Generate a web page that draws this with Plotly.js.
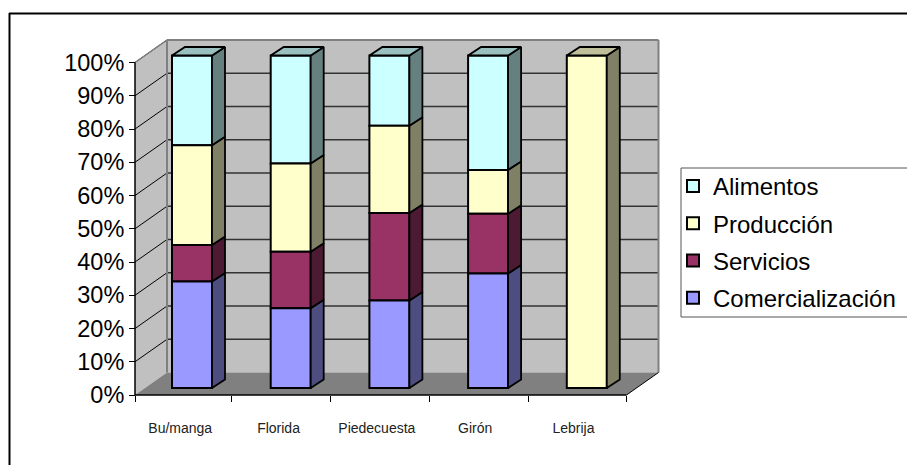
<!DOCTYPE html>
<html>
<head>
<meta charset="utf-8">
<script src="https://cdn.plot.ly/plotly-3.0.1.min.js"></script>
<style>html,body{margin:0;padding:0;background:#fff;overflow:hidden}</style>
</head>
<body>
<div id="chart" style="width:907px;height:465px"></div>
<script>
// ---- data (percent of each municipality) ----
const categories = ['Bu/manga', 'Florida', 'Piedecuesta', 'Girón', 'Lebrija'];
const comercializacion = [32, 24, 26.3, 34.4, 0];
const servicios = [11, 17, 26.3, 18, 0];
const produccion = [30, 26.5, 26.3, 13.2, 100];
const alimentos = [27, 32.5, 21.1, 34.4, 0];
const seriesNames = ['Comercialización', 'Servicios', 'Producción', 'Alimentos'];
const frontColors = ['#9999FF', '#993366', '#FFFFCC', '#CCFFFF'];
const sideColors = ['#4D4D80', '#4D1A33', '#808066', '#668080'];
const topColors = ['#7373BF', '#732640', '#BFBF99', '#99BFBF'];
const yTicks = [0, 10, 20, 30, 40, 50, 60, 70, 80, 90, 100];

// ---- pseudo-3D geometry, in pixels of the 907x465 page ----
const W = 907, H = 465;
const UX = 98.3, UY = 3.325;          // px per category, px per percent
const X0 = 135, Y0 = 395;             // front-left-bottom corner of the box
const DEPTH_PX = [32, 22.5];          // full depth of the box
const BAR_SHIFT_PX = [37, 7];         // front-left-bottom of first bar from the corner
const BAR_STEP_PX = 98.7;
const BAR_W_PX = 40, BAR_D_PX = [13, 8.5];
const VIEW = {l: 120, r: 672, t: 28, b: 412};

const dataX = px => (px - X0) / UX - 0.5;
const dataY = py => (Y0 - py) / UY;
const dx = DEPTH_PX[0] / UX, dy = DEPTH_PX[1] / UY;
const xEnd = 4.5, yEnd = 100;
const barW = BAR_W_PX / UX, barDX = BAR_D_PX[0] / UX, barDY = BAR_D_PX[1] / UY;
const barX = i => dataX(X0 + BAR_SHIFT_PX[0] + BAR_W_PX / 2 + i * BAR_STEP_PX);
const barY0 = BAR_SHIFT_PX[1] / UY;

const seriesValues = [comercializacion, servicios, produccion, alimentos];

// stacked bases
const bases = seriesValues.map((s, k) => s.map((_, i) => {
  let b = barY0;
  for (let j = 0; j < k; j++) b += seriesValues[j][i];
  return b;
}));

// front faces, top series first so the legend reads Alimentos -> Comercialización
const traces = seriesValues.map((vals, k) => ({
  type: 'bar',
  name: seriesNames[k],
  legendgroup: seriesNames[k],
  x: categories.map((_, i) => barX(i)),
  y: vals,
  base: bases[k],
  width: barW,
  marker: {color: frontColors[k], line: {color: '#000', width: 2}},
  hoverinfo: 'skip'
})).reverse();

// side faces
seriesValues.forEach((vals, k) => {
  const xs = [], ys = [];
  vals.forEach((v, i) => {
    if (v <= 0) return;
    const r = barX(i) + barW / 2, b = bases[k][i];
    xs.push(r, r + barDX, r + barDX, r, r, null);
    ys.push(b, b + barDY, b + v + barDY, b + v, b, null);
  });
  traces.push({type: 'scatter', mode: 'lines', x: xs, y: ys, fill: 'toself',
    fillcolor: sideColors[k], line: {color: '#000', width: 1.8},
    showlegend: false, hoverinfo: 'skip'});
});

// top faces (the uppermost non-empty segment of each bar)
seriesValues.forEach((vals, k) => {
  const xs = [], ys = [];
  vals.forEach((v, i) => {
    if (v <= 0) return;
    if (seriesValues.slice(k + 1).some(s => s[i] > 0)) return;
    const l = barX(i) - barW / 2, r = l + barW, t = bases[k][i] + v;
    xs.push(l, r, r + barDX, l + barDX, l, null);
    ys.push(t, t, t + barDY, t + barDY, t, null);
  });
  if (xs.length) traces.push({type: 'scatter', mode: 'lines', x: xs, y: ys, fill: 'toself',
    fillcolor: topColors[k], line: {color: '#000', width: 1.8},
    showlegend: false, hoverinfo: 'skip'});
});

// box: walls, floor, gridlines, axes
const poly = (pts, fill, lineColor, lineWidth) => ({
  type: 'path', xref: 'x', yref: 'y', layer: 'below',
  path: 'M' + pts.map(p => p[0] + ',' + p[1]).join('L') + 'Z',
  fillcolor: fill, line: {color: lineColor || fill, width: lineWidth === undefined ? 0 : lineWidth}
});
const seg = (a, b, color, width) => ({
  type: 'line', xref: 'x', yref: 'y', layer: 'below',
  x0: a[0], y0: a[1], x1: b[0], y1: b[1], line: {color: color, width: width}
});
const x0 = -0.5;
const shapes = [
  // outer frame of the picture
  {type: 'line', xref: 'paper', yref: 'paper', layer: 'below', x0: 9.5 / W, x1: 9.5 / W, y0: 0, y1: 1 - 13 / H, line: {color: '#000', width: 2}},
  {type: 'line', xref: 'paper', yref: 'paper', layer: 'below', x0: 9 / W, x1: 1, y0: 1 - 13.5 / H, y1: 1 - 13.5 / H, line: {color: '#000', width: 2}},
  // legend box
  {type: 'rect', xref: 'paper', yref: 'paper', layer: 'below', x0: 681 / W, x1: 908 / W, y0: 1 - 317 / H, y1: 1 - 168 / H, fillcolor: '#fff', line: {color: '#555', width: 1}},
  // walls and floor
  poly([[x0 + dx, dy], [xEnd + dx, dy], [xEnd + dx, yEnd + dy], [x0 + dx, yEnd + dy]], '#C0C0C0'),
  poly([[x0, 0], [x0 + dx, dy], [x0 + dx, yEnd + dy], [x0, yEnd]], '#C0C0C0'),
  poly([[x0, 0], [xEnd, 0], [xEnd + dx, dy], [x0 + dx, dy]], '#808080')
];
yTicks.forEach(t => {
  if (t > 0 && t < 100) shapes.push(seg([x0 + dx, t + dy], [xEnd + dx, t + dy], '#333', 1.5));
  if (t > 0) shapes.push(seg([x0, t], [x0 + dx, t + dy], '#000', 1));
});
shapes.push(
  seg([x0 + dx, dy], [x0 + dx, yEnd + dy], '#808080', 2),
  seg([x0 + dx, yEnd + dy], [xEnd + dx, yEnd + dy], '#808080', 2),
  seg([xEnd + dx, yEnd + dy], [xEnd + dx, dy], '#808080', 2),
  seg([x0, yEnd], [x0 + dx, yEnd + dy], '#808080', 1.5),
  seg([xEnd, 0], [xEnd + dx, dy], '#000', 1),
  seg([x0, 0], [xEnd, 0], '#000', 1.5),
  seg([x0, 0], [x0, yEnd], '#000', 1.5)
);

const layout = {
  width: W, height: H, autosize: false,
  margin: {l: 0, r: 0, t: 0, b: 0, pad: 0},
  paper_bgcolor: '#fff', plot_bgcolor: 'rgba(0,0,0,0)',
  barmode: 'overlay',
  font: {family: 'Liberation Sans, Arial, sans-serif', color: '#000'},
  showlegend: true,
  xaxis: {
    domain: [VIEW.l / W, VIEW.r / W],
    range: [dataX(VIEW.l), dataX(VIEW.r)],
    anchor: 'free', position: 1 - Y0 / H,
    showline: false, showgrid: false, zeroline: false,
    tickmode: 'array',
    tickvals: categories.map((_, i) => i - 0.04),
    ticktext: categories,
    ticks: '', ticklen: 0,
    ticklabelstandoff: 23,
    tickfont: {size: 14, color: '#222'},
    minor: {tickmode: 'array', tickvals: [-0.5, 0.48, 1.49, 2.5, 3.5, 4.5], ticks: 'outside', ticklen: 6, tickwidth: 1, tickcolor: '#000', showgrid: false}
  },
  yaxis: {
    domain: [1 - VIEW.b / H, 1 - VIEW.t / H],
    range: [dataY(VIEW.b), dataY(VIEW.t)],
    anchor: 'free', position: X0 / W,
    showline: false, showgrid: false, zeroline: false,
    tickmode: 'array',
    tickvals: yTicks,
    ticktext: yTicks.map(t => t + '%'),
    ticks: 'outside', ticklen: 6, tickwidth: 1, tickcolor: '#000',
    tickfont: {size: 23.5, color: '#000'}
  },
  shapes: shapes,
  legend: {
    x: 673 / W, y: 1 - 164 / H, xanchor: 'left', yanchor: 'top',
    traceorder: 'grouped', tracegroupgap: 3,
    bgcolor: 'rgba(0,0,0,0)', borderwidth: 0,
    font: {size: 24, color: '#000'}
  }
};

Plotly.newPlot('chart', traces, layout, {staticPlot: true, displayModeBar: false});
</script>
</body>
</html>
